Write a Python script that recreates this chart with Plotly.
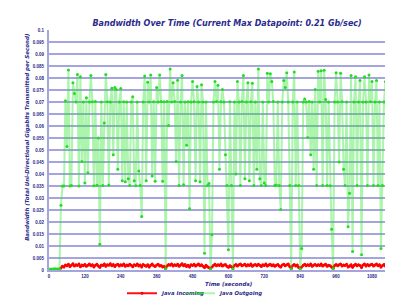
import plotly.graph_objects as go

time_s = [
    0, 5, 10, 15, 20, 25, 30, 35, 40, 45, 50, 55,
    60, 65, 70, 75, 80, 85, 90, 95, 100, 105, 110, 115,
    120, 125, 130, 135, 140, 145, 150, 155, 160, 165, 170, 175,
    180, 185, 190, 195, 200, 205, 210, 215, 220, 225, 230, 235,
    240, 245, 250, 255, 260, 265, 270, 275, 280, 285, 290, 295,
    300, 305, 310, 315, 320, 325, 330, 335, 340, 345, 350, 355,
    360, 365, 370, 375, 380, 385, 390, 395, 400, 405, 410, 415,
    420, 425, 430, 435, 440, 445, 450, 455, 460, 465, 470, 475,
    480, 485, 490, 495, 500, 505, 510, 515, 520, 525, 530, 535,
    540, 545, 550, 555, 560, 565, 570, 575, 580, 585, 590, 595,
    600, 605, 610, 615, 620, 625, 630, 635, 640, 645, 650, 655,
    660, 665, 670, 675, 680, 685, 690, 695, 700, 705, 710, 715,
    720, 725, 730, 735, 740, 745, 750, 755, 760, 765, 770, 775,
    780, 785, 790, 795, 800, 805, 810, 815, 820, 825, 830, 835,
    840, 845, 850, 855, 860, 865, 870, 875, 880, 885, 890, 895,
    900, 905, 910, 915, 920, 925, 930, 935, 940, 945, 950, 955,
    960, 965, 970, 975, 980, 985, 990, 995, 1000, 1005, 1010, 1015,
    1020, 1025, 1030, 1035, 1040, 1045, 1050, 1055, 1060, 1065, 1070, 1075,
    1080, 1085, 1090, 1095, 1100, 1105, 1110, 1115, 1120, 1125, 1130, 1135,
    1140, 1145, 1150, 1155, 1160, 1165, 1170, 1175,
]

java_incoming = [
    0.0002, 0.0002, 0.0002, 0.0002, 0.0002, 0.0002, 0.0002, 0.0002, 0.0008, 0.0016, 0.0012, 0.0021,
    0.0018, 0.0024, 0.0015, 0.0020, 0.0026, 0.0017, 0.0022, 0.0019, 0.0025, 0.0014, 0.0021, 0.0018,
    0.0023, 0.0016, 0.0020, 0.0025, 0.0018, 0.0022, 0.0013, 0.0020, 0.0024, 0.0017, 0.0011, 0.0021,
    0.0019, 0.0025, 0.0016, 0.0022, 0.0020, 0.0026, 0.0018, 0.0023, 0.0015, 0.0021, 0.0024, 0.0017,
    0.0022, 0.0019, 0.0025, 0.0016, 0.0021, 0.0018, 0.0024, 0.0020, 0.0014, 0.0022, 0.0019, 0.0025,
    0.0017, 0.0021, 0.0013, 0.0023, 0.0019, 0.0016, 0.0022, 0.0012, 0.0020, 0.0025, 0.0018, 0.0015,
    0.0021, 0.0024, 0.0017, 0.0019, 0.0013, 0.0016, 0.0007, 0.0018, 0.0023, 0.0020, 0.0025, 0.0017,
    0.0022, 0.0019, 0.0024, 0.0016, 0.0021, 0.0026, 0.0018, 0.0023, 0.0015, 0.0020, 0.0012, 0.0022,
    0.0019, 0.0024, 0.0017, 0.0021, 0.0025, 0.0018, 0.0022, 0.0016, 0.0010, 0.0020, 0.0014, 0.0009,
    0.0007, 0.0012, 0.0020, 0.0024, 0.0018, 0.0022, 0.0019, 0.0025, 0.0017, 0.0021, 0.0023, 0.0016,
    0.0011, 0.0018, 0.0014, 0.0008, 0.0019, 0.0023, 0.0017, 0.0022, 0.0025, 0.0018, 0.0021, 0.0024,
    0.0017, 0.0022, 0.0019, 0.0025, 0.0016, 0.0021, 0.0023, 0.0018, 0.0024, 0.0020, 0.0015, 0.0022,
    0.0019, 0.0025, 0.0017, 0.0021, 0.0024, 0.0018, 0.0022, 0.0016, 0.0020, 0.0023, 0.0017, 0.0012,
    0.0021, 0.0024, 0.0018, 0.0022, 0.0025, 0.0015, 0.0007, 0.0019, 0.0023, 0.0017, 0.0021, 0.0010,
    0.0008, 0.0013, 0.0020, 0.0024, 0.0018, 0.0022, 0.0019, 0.0025, 0.0016, 0.0021, 0.0023, 0.0018,
    0.0022, 0.0019, 0.0025, 0.0017, 0.0021, 0.0024, 0.0016, 0.0020, 0.0018, 0.0012, 0.0007, 0.0019,
    0.0023, 0.0018, 0.0022, 0.0025, 0.0017, 0.0021, 0.0019, 0.0024, 0.0013, 0.0016, 0.0022, 0.0011,
    0.0020, 0.0024, 0.0018, 0.0022, 0.0019, 0.0010, 0.0021, 0.0025, 0.0017, 0.0023, 0.0018, 0.0022,
    0.0024, 0.0017, 0.0021, 0.0025, 0.0018, 0.0022, 0.0012, 0.0019, 0.0023, 0.0016, 0.0021, 0.0024,
    0.0018, 0.0022, 0.0013, 0.0020, 0.0025, 0.0017, 0.0021, 0.0019,
]

java_outgoing = [
    0.0004, 0.0003, 0.0004, 0.0004, 0.0005, 0.0004, 0.0004, 0.0005, 0.0270, 0.0350, 0.0350, 0.0705,
    0.0515, 0.0833, 0.0350, 0.0352, 0.0780, 0.0735, 0.0700, 0.0815, 0.0350, 0.0805, 0.0452, 0.0700,
    0.0362, 0.0718, 0.0405, 0.0700, 0.0810, 0.0701, 0.0351, 0.0702, 0.0353, 0.0550, 0.0107, 0.0700,
    0.0352, 0.0612, 0.0815, 0.0701, 0.0354, 0.0700, 0.0757, 0.0480, 0.0760, 0.0752, 0.0420, 0.0700,
    0.0756, 0.0372, 0.0701, 0.0368, 0.0700, 0.0380, 0.0352, 0.0700, 0.0722, 0.0372, 0.0351, 0.0700,
    0.0412, 0.0352, 0.0223, 0.0700, 0.0808, 0.0372, 0.0782, 0.0700, 0.0812, 0.0392, 0.0701, 0.0370,
    0.0760, 0.0700, 0.0812, 0.0702, 0.0370, 0.0701, 0.0004, 0.0702, 0.0602, 0.0838, 0.0700, 0.0780,
    0.0702, 0.0452, 0.0791, 0.0352, 0.0700, 0.0810, 0.0355, 0.0700, 0.0520, 0.0701, 0.0255, 0.0700,
    0.0785, 0.0701, 0.0372, 0.0765, 0.0700, 0.0368, 0.0772, 0.0700, 0.0070, 0.0700, 0.0352, 0.0360,
    0.0003, 0.0147, 0.0700, 0.0785, 0.0702, 0.0770, 0.0420, 0.0701, 0.0752, 0.0700, 0.0480, 0.0352,
    0.0084, 0.0701, 0.0352, 0.0003, 0.0700, 0.0400, 0.0785, 0.0700, 0.0352, 0.0702, 0.0810, 0.0380,
    0.0700, 0.0780, 0.0372, 0.0701, 0.0778, 0.0352, 0.0700, 0.0420, 0.0837, 0.0380, 0.0352, 0.0700,
    0.0362, 0.0352, 0.0820, 0.0700, 0.0818, 0.0785, 0.0702, 0.0352, 0.0354, 0.0700, 0.0352, 0.0252,
    0.0700, 0.0790, 0.0760, 0.0822, 0.0700, 0.0352, 0.0003, 0.0700, 0.0825, 0.0352, 0.0700, 0.0352,
    0.0003, 0.0090, 0.0700, 0.0712, 0.0700, 0.0552, 0.0702, 0.0480, 0.0700, 0.0420, 0.0752, 0.0352,
    0.0828, 0.0700, 0.0830, 0.0352, 0.0832, 0.0710, 0.0352, 0.0700, 0.0351, 0.0170, 0.0003, 0.0700,
    0.0822, 0.0700, 0.0450, 0.0820, 0.0701, 0.0420, 0.0352, 0.0700, 0.0180, 0.0320, 0.0810, 0.0077,
    0.0700, 0.0805, 0.0352, 0.0700, 0.0790, 0.0064, 0.0700, 0.0805, 0.0700, 0.0352, 0.0812, 0.0701,
    0.0785, 0.0352, 0.0700, 0.0790, 0.0352, 0.0700, 0.0090, 0.0352, 0.0700, 0.0785, 0.0420, 0.0702,
    0.0800, 0.0700, 0.0133, 0.0701, 0.0400, 0.0702, 0.0395, 0.0700,
]

x_ticks = [0, 120, 240, 360, 480, 600, 720, 840, 960, 1080]
x_tick_labels = ["0", "120", "240", "360", "480", "600", "720", "840", "960", "1080"]
y_ticks = [0, 0.005, 0.01, 0.015, 0.02, 0.025, 0.03, 0.035, 0.04, 0.045, 0.05,
           0.055, 0.06, 0.065, 0.07, 0.075, 0.08, 0.085, 0.09, 0.095, 0.1]
y_tick_labels = ["0", "0.005", "0.01", "0.015", "0.02", "0.025", "0.03", "0.035", "0.04",
                 "0.045", "0.05", "0.055", "0.06", "0.065", "0.07", "0.075", "0.08",
                 "0.085", "0.09", "0.095", "0.1"]

NAVY = "#2a2a8c"
GRID = "rgb(165,165,222)"
TICKFONT = "Liberation Sans"
TEXTFONT = "DejaVu Sans"

fig = go.Figure()
fig.add_trace(go.Scatter(
    x=time_s, y=java_incoming, name="Java Incoming", mode="lines+markers",
    line=dict(color="#ff1010", width=2),
    marker=dict(color="#ff0000", size=3),
    legend="legend",
))
fig.add_trace(go.Scatter(
    x=time_s, y=java_outgoing, name="Java Outgoing", mode="lines+markers",
    line=dict(color="rgba(40,225,40,0.38)", width=2),
    marker=dict(color="#22dd22", size=3),
    legend="legend2",
))

W, H = 393, 300
L, R, T, B = 41, 0, 22, 31
PW = W - L - R

legend_font = dict(family=TEXTFONT, size=5.3, color=NAVY, weight="bold", style="italic")
legend_y = -(293 - 269) / 247

fig.update_layout(
    width=W, height=H,
    margin=dict(l=L, r=R, t=T, b=B),
    paper_bgcolor="white", plot_bgcolor="white",
    title=dict(
        text="Bandwidth Over Time (Current Max Datapoint: 0.21 Gb/sec)",
        xref="paper", x=0.506, xanchor="center",
        yref="container", y=1 - 15 / H, yanchor="middle",
        font=dict(family=TEXTFONT, size=8, color=NAVY, weight="bold", style="italic"),
    ),
    showlegend=True,
    legend=dict(
        xref="paper", x=(114 - L) / PW, xanchor="left",
        yref="paper", y=legend_y, yanchor="middle",
        font=legend_font, itemwidth=30, bgcolor="rgba(0,0,0,0)",
    ),
    legend2=dict(
        xref="paper", x=(172 - L) / PW, xanchor="left",
        yref="paper", y=legend_y, yanchor="middle",
        font=legend_font, itemwidth=30, bgcolor="rgba(0,0,0,0)",
    ),
    xaxis=dict(
        range=[0, 1177], tickvals=x_ticks, ticktext=x_tick_labels,
        tickfont=dict(family=TICKFONT, size=4.5, color=NAVY, weight="bold"),
        showgrid=False, zeroline=False, showline=True, linecolor=GRID, linewidth=2,
        ticks="", ticklabelstandoff=1,
    ),
    yaxis=dict(
        range=[0, 0.1], tickvals=y_ticks, ticktext=y_tick_labels,
        tickfont=dict(family=TICKFONT, size=4.5, color=NAVY, weight="bold"),
        showgrid=True, gridcolor=GRID, gridwidth=2,
        zeroline=False, showline=True, linecolor=GRID, linewidth=2,
        ticks="", ticklabelstandoff=2,
    ),
    annotations=[
        dict(text="Bandwidth (Total Uni-Directional Gigabits Transmitted per Second)",
             xref="paper", yref="paper", x=(20 - L) / PW, y=(269 - 133) / 247,
             xanchor="center", yanchor="middle", textangle=-90, showarrow=False,
             font=dict(family=TEXTFONT, size=5.5, color=NAVY, weight="bold", style="italic")),
        dict(text="Time (seconds)",
             xref="paper", yref="paper", x=(220 - L) / PW, y=-(283 - 269) / 247,
             xanchor="center", yanchor="middle", showarrow=False,
             font=dict(family=TEXTFONT, size=5.5, color=NAVY, weight="bold", style="italic")),
    ],
)

fig.write_html("out.html")
